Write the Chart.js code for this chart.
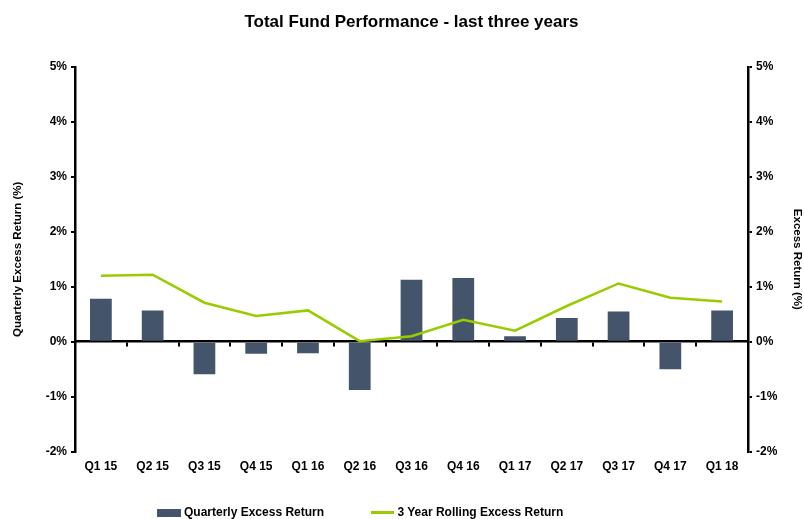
<!DOCTYPE html>
<html>
<head>
<meta charset="utf-8">
<script src="https://cdn.jsdelivr.net/npm/chart.js@4.4.1/dist/chart.umd.min.js"></script>
<style>
  html,body{margin:0;padding:0;background:#fff;}
  #wrap{position:relative;width:804px;height:519px;}
  #legend{position:absolute;left:157px;top:504px;font:bold 12px Arial,'Liberation Sans',sans-serif;color:#000;white-space:nowrap;line-height:16px;}
  #legend span.item{display:inline-block;margin-right:44px;}
  #legend i{display:inline-block;vertical-align:middle;margin-right:3px;}
</style>
</head>
<body>
<div id="wrap">
  <canvas id="perf" width="804" height="519"></canvas>
  <div id="legend">
    <span class="item"><i style="width:24px;height:8px;background:#44546a"></i>Quarterly Excess Return</span>
    <span class="item"><i style="width:23px;height:3px;background:#99cc00"></i>3 Year Rolling Excess Return</span>
  </div>
</div>
<script>
// valores (en %)
const quarters = ['Q1 15','Q2 15','Q3 15','Q4 15','Q1 16','Q2 16','Q3 16','Q4 16','Q1 17','Q2 17','Q3 17','Q4 17','Q1 18'];
const quarterlyExcess = [0.78, 0.57, -0.59, -0.22, -0.21, -0.88, 1.13, 1.16, 0.10, 0.43, 0.55, -0.50, 0.57];
const rollingExcess   = [1.20, 1.22, 0.71, 0.47, 0.57, 0.01, 0.10, 0.40, 0.20, 0.65, 1.06, 0.80, 0.73];
const yMin = -2, yMax = 5;

const FONT = "Arial, 'Liberation Sans', sans-serif";
const BAR = '#44546a';
const LINE = '#99cc00';

const yAxis = (pos, title, w, titlePad) => ({
  position: pos, min: yMin, max: yMax,
  afterFit: s => { s.width = w; },
  ticks: { stepSize: 1, color: '#000', font: {family: FONT, size: 12, weight: 'bold'}, padding: 4,
           callback: v => v + '%' },
  grid: { drawOnChartArea: false, tickLength: 4, color: '#000', lineWidth: 2 },
  border: { color: '#000', width: 2.5 },
  title: { display: true, text: title, color: '#000', font: {family: FONT, size: 11.5, weight: 'bold'}, padding: {top: titlePad, bottom: 0} }
});

new Chart(document.getElementById('perf').getContext('2d'), {
  type: 'bar',
  data: {
    labels: quarters,
    datasets: [
      { type: 'line', label: '3 Year Rolling Excess Return', data: rollingExcess, yAxisID: 'y2',
        borderColor: LINE, backgroundColor: LINE, borderWidth: 2.5, pointRadius: 0, tension: 0, order: 0 },
      { label: 'Quarterly Excess Return', data: quarterlyExcess, yAxisID: 'y',
        backgroundColor: BAR, borderWidth: 0, barPercentage: 0.42, categoryPercentage: 1, order: 1 }
    ]
  },
  options: {
    responsive: false, animation: false,
    layout: { padding: { left: 0, right: 0, top: 0, bottom: 45 } },
    plugins: {
      legend: { display: false },
      tooltip: { enabled: false },
      title: { display: true, fullSize: false, text: 'Total Fund Performance - last three years', color: '#000',
               font: {family: FONT, size: 17, weight: 'bold'}, padding: {top: 12, bottom: 34.6} }
    },
    scales: {
      x: { position: 'bottom', offset: true, grid: { display: false }, border: { display: false },
           ticks: { color: '#000', font: {family: FONT, size: 12, weight: 'bold'}, padding: 0, maxRotation: 0, autoSkip: false } },
      x0: { type: 'category', axis: 'x', position: { y: 0 }, offset: true, z: 1,
            grid: { offset: true, drawOnChartArea: false, tickLength: 4, color: '#000', lineWidth: 2 },
            border: { color: '#000', width: 2.5 },
            ticks: { display: false } },
      y: yAxis('left', 'Quarterly Excess Return (%)', 75, 11),
      y2: yAxis('right', 'Excess Return (%)', 56, 0)
    }
  }
});
</script>
</body>
</html>
